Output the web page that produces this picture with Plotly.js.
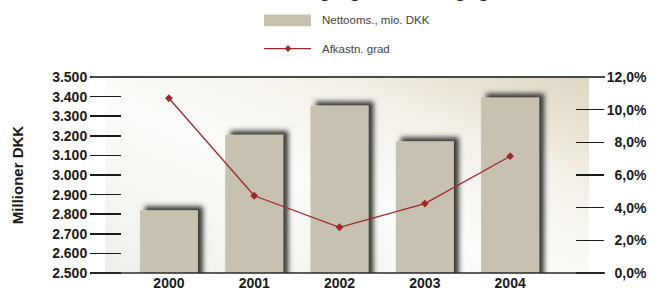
<!DOCTYPE html>
<html>
<head>
<meta charset="utf-8">
<script src="https://cdn.plot.ly/plotly-3.0.1.min.js"></script>
<style>html,body{margin:0;padding:0;background:#fff;}#chart{width:660px;height:306px;}</style>
</head>
<body>
<div id="chart"></div>
<script>
// ---- data ----
const years = ['2000', '2001', '2002', '2003', '2004'];
const nettoomsaetning = [2820, 3205, 3355, 3172, 3395];   // mio. DKK
const afkastningsgrad = [10.7, 4.73, 2.8, 4.25, 7.15];    // %
const leftTickVals = [2500, 2600, 2700, 2800, 2900, 3000, 3100, 3200, 3300, 3400, 3500];
const leftTickText = ['2.500', '2.600', '2.700', '2.800', '2.900', '3.000', '3.100', '3.200', '3.300', '3.400', '3.500'];
const rightTickVals = [0, 2, 4, 6, 8, 10, 12];
const rightTickText = ['\u20070,0%', '\u20072,0%', '\u20074,0%', '\u20076,0%', '\u20078,0%', '10,0%', '12,0%'];
const seriesNames = ['Nettooms., mio. DKK', 'Afkastn. grad'];
const titleText = 'Nettoomsætning og afkastningsgrad';
const yTitle = 'Millioner DKK';

// ---- geometry helpers (pixels -> paper) ----
const L = 122, R = 575, T = 77, B = 273;
const W = R - L, H = B - T;
const px = x => (x - L) / W;
const py = y => 1 + (T - y) / H;

const FONT = 'Arial, "Liberation Sans", sans-serif';
const barColor = '#c7c1af';
const lineColor = '#a0282a';

const bgSvg = '<svg xmlns="http://www.w3.org/2000/svg" width="484" height="196" viewBox="0 0 484 196" preserveAspectRatio="none">' +
  '<defs><linearGradient id="g" x1="0" y1="1" x2="1" y2="0">' +
  '<stop offset="0" stop-color="#efefea"/>' +
  '<stop offset="0.45" stop-color="#fbfbf9"/>' +
  '<stop offset="0.72" stop-color="#f3f0e7"/>' +
  '<stop offset="1" stop-color="#ded6c1"/>' +
  '</linearGradient></defs><rect width="484" height="196" fill="url(#g)"/></svg>';
const bgUri = 'data:image/svg+xml;base64,' + btoa(bgSvg);

const traces = [
  {
    type: 'bar', x: years, y: nettoomsaetning, name: seriesNames[0],
    marker: {color: barColor, line: {width: 0}}, width: 0.68,
    yaxis: 'y', hoverinfo: 'x+y', showlegend: false
  },
  {
    type: 'scatter', mode: 'lines+markers', x: years, y: afkastningsgrad, name: seriesNames[1],
    line: {color: lineColor, width: 1.3},
    marker: {symbol: 'diamond', size: 6, color: lineColor},
    yaxis: 'y2', showlegend: false
  }
];

const dx = 3.2 / W, dy = 3.6 / H;
const dmx = px(288), dmy = py(48.6);

const layout = {
  width: 660, height: 306,
  margin: {l: L, r: 660 - R, t: T, b: 306 - B, pad: 0},
  paper_bgcolor: '#ffffff', plot_bgcolor: 'rgba(0,0,0,0)',
  font: {family: FONT, color: '#222'},
  showlegend: false,
  xaxis: {
    type: 'category',
    range: [-0.55, 4.76], showgrid: false, zeroline: false, showline: false, ticks: '',
    tickfont: {family: FONT, size: 14, color: '#1a1a1a', weight: 'bold'}, fixedrange: true
  },
  yaxis: {
    range: [2500, 3500], tickvals: leftTickVals, ticktext: leftTickText,
    ticks: 'outside', ticklen: 31, tickwidth: 1.5, tickcolor: '#1a1a1a',
    showgrid: false, zeroline: false, showline: false,
    tickfont: {family: FONT, size: 14, color: '#1a1a1a', weight: 'bold'},
    title: {text: yTitle, font: {family: FONT, size: 15, color: '#1a1a1a', weight: 'bold'}, standoff: 24},
    fixedrange: true
  },
  yaxis2: {
    range: [0, 12], overlaying: 'y', side: 'right', tickvals: rightTickVals, ticktext: rightTickText,
    ticks: 'outside', ticklen: 28, tickwidth: 1.5, tickcolor: '#1a1a1a',
    showgrid: false, zeroline: false, showline: false,
    tickfont: {family: FONT, size: 14, color: '#1a1a1a', weight: 'bold'}, fixedrange: true
  },
  images: [{
    source: bgUri, xref: 'paper', yref: 'paper', x: px(105), y: 1,
    sizex: (589 - 105) / W, sizey: 1, xanchor: 'left', yanchor: 'top',
    sizing: 'stretch', layer: 'below'
  }],
  shapes: [
    {type: 'line', xref: 'paper', yref: 'paper', x0: px(91), x1: px(605), y0: 1, y1: 1,
      line: {color: '#4a4a4a', width: 2.2}},
    {type: 'line', xref: 'paper', yref: 'paper', x0: px(91), x1: px(605), y0: 0, y1: 0,
      line: {color: '#2a2a2a', width: 1.6}},
    // legend swatches
    {type: 'rect', xref: 'paper', yref: 'paper', x0: px(264), x1: px(311), y0: py(26.2), y1: py(14.4),
      fillcolor: barColor, line: {width: 0}},
    {type: 'line', xref: 'paper', yref: 'paper', x0: px(264), x1: px(311), y0: py(48.6), y1: py(48.6),
      line: {color: lineColor, width: 1.3}},
    {type: 'path', xref: 'paper', yref: 'paper',
      path: `M ${dmx - dx} ${dmy} L ${dmx} ${dmy + dy} L ${dmx + dx} ${dmy} L ${dmx} ${dmy - dy} Z`,
      fillcolor: lineColor, line: {width: 0}}
  ],
  annotations: [
    {text: seriesNames[0], xref: 'paper', yref: 'paper', x: px(320), y: py(20.3),
      xanchor: 'left', yanchor: 'middle', showarrow: false,
      font: {family: FONT, size: 11.5, color: '#444'}},
    {text: seriesNames[1], xref: 'paper', yref: 'paper', x: px(320), y: py(48.6),
      xanchor: 'left', yanchor: 'middle', showarrow: false,
      font: {family: FONT, size: 11.5, color: '#444'}},
    {text: titleText, xref: 'paper', yref: 'paper', x: px(346), y: py(3),
      xanchor: 'center', yanchor: 'bottom', showarrow: false,
      font: {family: FONT, size: 20, color: '#1a1a1a', weight: 'bold'}}
  ]
};

Plotly.newPlot('chart', traces, layout, {displayModeBar: false, staticPlot: true}).then(gd => {
  const svgNS = 'http://www.w3.org/2000/svg';
  const defs = gd.querySelector('.main-svg defs');
  if (defs) {
    const f = document.createElementNS(svgNS, 'filter');
    f.setAttribute('id', 'barShadow');
    f.setAttribute('x', '-20%'); f.setAttribute('y', '-20%');
    f.setAttribute('width', '150%'); f.setAttribute('height', '150%');
    const ds = document.createElementNS(svgNS, 'feDropShadow');
    ds.setAttribute('dx', '5'); ds.setAttribute('dy', '-4');
    ds.setAttribute('stdDeviation', '2.6');
    ds.setAttribute('flood-color', '#2e2e2e'); ds.setAttribute('flood-opacity', '0.95');
    f.appendChild(ds);
    defs.appendChild(f);
    gd.querySelectorAll('.barlayer .point path').forEach(p => p.setAttribute('filter', 'url(#barShadow)'));
  }
});
</script>
</body>
</html>
